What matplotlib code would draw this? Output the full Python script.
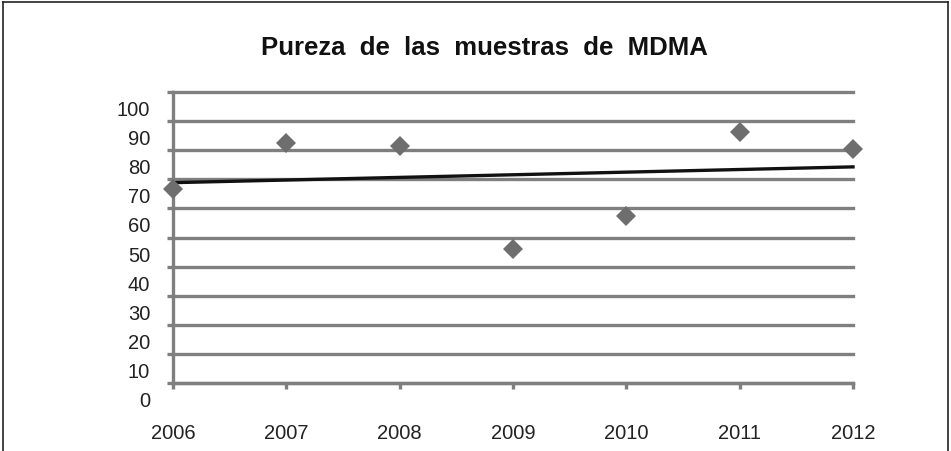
import numpy as np
import matplotlib
matplotlib.use('Agg')
import matplotlib.pyplot as plt
from matplotlib.transforms import ScaledTranslation
from matplotlib.lines import Line2D

plt.rcParams['font.family'] = ['Liberation Sans', 'DejaVu Sans']

years = [2006, 2007, 2008, 2009, 2010, 2011, 2012]
pureza = [66.6, 82.4, 81.5, 46.2, 57.4, 86.4, 80.4]
yticks = [0, 10, 20, 30, 40, 50, 60, 70, 80, 90, 100]
titulo = 'Pureza  de  las  muestras  de  MDMA'

gris = '#7f7f7f'

fig = plt.figure(figsize=(9.51, 4.52), dpi=100)
ax = fig.add_axes([173/951, 1-384/452, 680/951, 291/452])

# tendencia lineal
coef = np.polyfit(years, pureza, 1)
xt = np.array([years[0], years[-1]])
ax.plot(xt, np.polyval(coef, xt), color='#111111', lw=2.4, zorder=3, clip_on=False)

ax.plot(years, pureza, ls='none', marker='D', ms=10.5, color='#6e6e6e',
        markeredgewidth=0, zorder=4, clip_on=False)

ax.set_xlim(2006, 2012)
ax.set_ylim(0, 100)
ax.set_xticks(years)
ax.set_yticks(yticks)
ax.set_xticklabels([str(y) for y in years])
ax.set_yticklabels([str(v) for v in yticks])

ax.grid(axis='y', color=gris, lw=2.4)
for l in ax.get_ygridlines():
    l.set_clip_on(False)
ax.set_axisbelow(True)

for s in ['top', 'right']:
    ax.spines[s].set_visible(False)
ax.spines['left'].set_color(gris)
ax.spines['left'].set_linewidth(2.4)
ax.spines['bottom'].set_color(gris)
ax.spines['bottom'].set_linewidth(2.4)

ax.tick_params(axis='y', direction='out', length=4.5, width=2.4, color=gris,
               pad=12, labelsize=14.5, labelcolor='#222222')
ax.tick_params(axis='x', direction='out', length=4, width=2.4, color=gris,
               pad=25, labelsize=14.5, labelcolor='#222222')

off = ScaledTranslation(0, -0.155, fig.dpi_scale_trans)
for lab in ax.get_yticklabels():
    lab.set_transform(lab.get_transform() + off)

fig.text(484/951, 1-48/452, titulo, ha='center', va='center',
         fontsize=18.5, fontweight='bold', color='#111111')

# marco exterior
for xs, ys in [([3/951, 3/951], [0, 1-3/452]),
               ([3/951, 948/951], [1-3/452, 1-3/452]),
               ([948/951, 948/951], [0, 1-3/452])]:
    fig.add_artist(Line2D(xs, ys, color='#222222', lw=1.2))

fig.savefig('out.png', dpi=100)
